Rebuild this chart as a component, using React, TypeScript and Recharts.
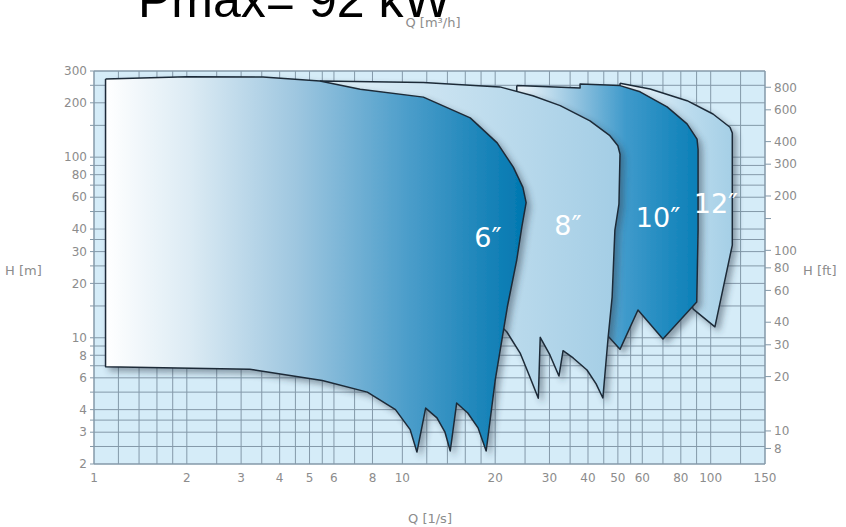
import { ScatterChart, Scatter, XAxis, YAxis, CartesianGrid } from "recharts";

// operating envelopes, Q in l/s, H in m
const pump6 = [
  { q: 1.09, h: 271 },
  { q: 2.0, h: 279 },
  { q: 3.53, h: 278 },
  { q: 5.4, h: 264 },
  { q: 7.3, h: 238 },
  { q: 11.7, h: 215 },
  { q: 16.6, h: 165 },
  { q: 20.3, h: 120 },
  { q: 22.9, h: 88 },
  { q: 24.6, h: 68 },
  { q: 25.2, h: 56 },
  { q: 24.4, h: 41 },
  { q: 23.5, h: 27 },
  { q: 21.9, h: 14.8 },
  { q: 20.0, h: 5.8 },
  { q: 18.7, h: 2.36 },
  { q: 17.6, h: 3.17 },
  { q: 16.3, h: 3.83 },
  { q: 15.0, h: 4.35 },
  { q: 14.3, h: 2.36 },
  { q: 13.75, h: 3.0 },
  { q: 12.95, h: 3.6 },
  { q: 11.9, h: 4.08 },
  { q: 11.15, h: 2.33 },
  { q: 10.6, h: 3.1 },
  { q: 9.5, h: 4.0 },
  { q: 7.7, h: 5.0 },
  { q: 5.5, h: 5.8 },
  { q: 3.2, h: 6.7 },
  { q: 1.09, h: 6.9 },
  { q: 1.09, h: 271 },
];

const pump8 = [
  { q: 5.4, h: 264 },
  { q: 11.7, h: 259 },
  { q: 20.7, h: 245 },
  { q: 26.5, h: 219 },
  { q: 32.5, h: 193 },
  { q: 40.6, h: 159 },
  { q: 47.1, h: 131.5 },
  { q: 50.0, h: 115.7 },
  { q: 50.8, h: 104 },
  { q: 50.4, h: 55 },
  { q: 48.9, h: 39.5 },
  { q: 47.9, h: 16.8 },
  { q: 46.5, h: 10.1 },
  { q: 44.7, h: 4.64 },
  { q: 42.5, h: 5.55 },
  { q: 39.7, h: 6.63 },
  { q: 35.8, h: 7.73 },
  { q: 33.2, h: 8.48 },
  { q: 32.2, h: 6.14 },
  { q: 30.1, h: 8.03 },
  { q: 28.0, h: 10.06 },
  { q: 27.6, h: 4.62 },
  { q: 25.9, h: 6.09 },
  { q: 24.1, h: 8.23 },
  { q: 21.8, h: 10.8 },
  { q: 20.0, h: 12.5 },
  { q: 9.8, h: 58 },
  { q: 5.4, h: 235 },
  { q: 5.4, h: 264 },
];

const pump10 = [
  { q: 23.5, h: 249 },
  { q: 37.7, h: 241.5 },
  { q: 37.7, h: 254 },
  { q: 50.8, h: 249 },
  { q: 59.0, h: 230 },
  { q: 72.2, h: 190 },
  { q: 83.8, h: 153 },
  { q: 90.3, h: 126 },
  { q: 91.0, h: 110 },
  { q: 91.0, h: 39.5 },
  { q: 90.1, h: 15.8 },
  { q: 70.0, h: 9.84 },
  { q: 58.1, h: 14.25 },
  { q: 50.8, h: 8.63 },
  { q: 46.5, h: 10.2 },
  { q: 42.1, h: 11.0 },
  { q: 40.6, h: 110 },
  { q: 30.1, h: 182 },
  { q: 23.5, h: 227 },
  { q: 23.5, h: 249 },
];

const pump12 = [
  { q: 50.8, h: 256.5 },
  { q: 63.6, h: 238.5 },
  { q: 83.8, h: 205.5 },
  { q: 101.7, h: 173.4 },
  { q: 115.5, h: 146.4 },
  { q: 117.5, h: 136 },
  { q: 117.5, h: 32.6 },
  { q: 103.2, h: 11.5 },
  { q: 87.8, h: 14.4 },
  { q: 85.7, h: 16.2 },
  { q: 85.7, h: 110 },
  { q: 59.0, h: 218 },
  { q: 50.8, h: 235.5 },
  { q: 50.8, h: 256.5 },
];

const sizeLabels = [
  { q: 18.95, h: 35.7, name: "6″" },
  { q: 34.45, h: 42.1, name: "8″" },
  { q: 67.5, h: 46.6, name: "10″" },
  { q: 104, h: 55.7, name: "12″" },
];

// axes
const qTicks = [1, 1.2, 1.4, 1.6, 1.8, 2, 2.5, 3, 3.5, 4, 4.5, 5, 5.5, 6, 7, 8, 10, 12, 14, 16, 18, 20, 25, 30, 35, 40, 45, 50, 55, 60, 70, 80, 90, 100, 125, 150];
const qLabels = [1, 2, 3, 4, 5, 6, 8, 10, 20, 30, 40, 50, 60, 80, 100, 150];
const hTicks = [2, 2.5, 3, 3.5, 4, 5, 6, 7, 8, 9, 10, 15, 20, 25, 30, 35, 40, 50, 60, 70, 80, 90, 100, 150, 200, 250, 300];
const hLabels = [2, 3, 4, 6, 8, 10, 20, 30, 40, 60, 80, 100, 200, 300];
const m3Ticks = [4, 4.5, 5, 6, 7, 8, 9, 10, 15, 20, 30, 40, 50, 60, 70, 80, 100, 150, 200, 300, 400, 500];
const m3Labels = [4, 5, 6, 8, 10, 20, 30, 40, 60, 80, 100, 200, 300, 500];
const ftTicks = [8, 10, 20, 30, 40, 60, 80, 100, 150, 200, 300, 400, 600, 800];
const ftLabels = [8, 10, 20, 30, 40, 60, 80, 100, 200, 300, 400, 600, 800];

const Q_MIN = 1;
const Q_MAX = 150;
const H_MIN = 2;
const H_MAX = 300;
const M3H_PER_LS = 3.6;
const FT_PER_M = 3.28084;

const gridColor = "#8499a9";
const tickStyle = { fill: "#8c8c8c", fontSize: 12, fontFamily: "DejaVu Sans" };
const titleStyle = { fill: "#8c8c8c", fontSize: 13, fontFamily: "DejaVu Sans" };

const labelIf = (list: number[]) => (v: number) => (list.includes(v) ? String(v) : "");

const NoDot = () => null;

const SizeLabel = (props: any) => (
  <text
    x={props.cx}
    y={props.cy}
    textAnchor="middle"
    dominantBaseline="central"
    fill="#ffffff"
    fontSize={27}
    fontFamily="DejaVu Sans"
  >
    {props.payload.name}
  </text>
);

const outline = (grad: string) => ({
  fill: `url(#${grad})`,
  stroke: "#1d2b38",
  strokeWidth: 1.5,
  strokeLinejoin: "round",
  filter: "url(#shade)",
});

export default function App() {
  return (
    <div style={{ position: "absolute", left: 0, top: 0 }}>
      <ScatterChart
        width={846}
        height={527}
        margin={{ top: 41, right: 41, bottom: 33, left: 54 }}
      >
        <defs>
          <linearGradient id="g6" x1="0" y1="0" x2="1" y2="0">
            <stop offset="0%" stopColor="#ffffff" />
            <stop offset="20%" stopColor="#dcebf4" />
            <stop offset="45%" stopColor="#9fc7e0" />
            <stop offset="72%" stopColor="#4b9dca" />
            <stop offset="100%" stopColor="#0077b0" />
          </linearGradient>
          <linearGradient id="g8" x1="0" y1="0" x2="1" y2="0">
            <stop offset="0%" stopColor="#e2f0f8" />
            <stop offset="100%" stopColor="#a3cde5" />
          </linearGradient>
          <linearGradient id="g10" x1="0" y1="0" x2="1" y2="0">
            <stop offset="0%" stopColor="#f2f8fc" />
            <stop offset="35%" stopColor="#8cc0de" />
            <stop offset="60%" stopColor="#3f9acb" />
            <stop offset="100%" stopColor="#0a7fb7" />
          </linearGradient>
          <linearGradient id="g12" x1="0" y1="0" x2="1" y2="0">
            <stop offset="0%" stopColor="#f7fbfe" />
            <stop offset="60%" stopColor="#bcdcee" />
            <stop offset="100%" stopColor="#a5cfe6" />
          </linearGradient>
          <filter id="shade" x="-10%" y="-10%" width="130%" height="130%">
            <feDropShadow dx="4" dy="4" stdDeviation="3" floodColor="#2a3a48" floodOpacity="0.45" />
          </filter>
        </defs>

        <text x={138} y={17} fontSize={50} fontFamily="Liberation Sans" fill="#000">
          Pmax= 92 kW
        </text>
        <text x={433} y={27} textAnchor="middle" {...titleStyle}>Q [m³/h]</text>
        <text x={430} y={523} textAnchor="middle" {...titleStyle}>Q [1/s]</text>
        <text x={5} y={275} {...titleStyle}>H [m]</text>
        <text x={803} y={275} {...titleStyle}>H [ft]</text>

        <CartesianGrid xAxisId="q" yAxisId="h" fill="#d5ecf8" stroke={gridColor} />

        <XAxis
          xAxisId="q"
          dataKey="q"
          type="number"
          scale="log"
          domain={[Q_MIN, Q_MAX]}
          allowDataOverflow
          ticks={qTicks}
          interval={0}
          tickFormatter={labelIf(qLabels)}
          tickLine={false}
          tickSize={0}
          tickMargin={9}
          axisLine={{ stroke: gridColor }}
          height={30}
          tick={tickStyle}
        />
        <XAxis
          xAxisId="m3"
          orientation="top"
          type="number"
          scale="log"
          domain={[Q_MIN * M3H_PER_LS, Q_MAX * M3H_PER_LS]}
          allowDataOverflow
          ticks={m3Ticks}
          interval={0}
          tickFormatter={labelIf(m3Labels)}
          tickLine={{ stroke: gridColor }}
          tickSize={5}
          tickMargin={3}
          axisLine={{ stroke: gridColor }}
          height={30}
          tick={tickStyle}
        />
        <YAxis
          yAxisId="h"
          dataKey="h"
          type="number"
          scale="log"
          domain={[H_MIN, H_MAX]}
          allowDataOverflow
          ticks={hTicks}
          interval={0}
          tickFormatter={labelIf(hLabels)}
          tickLine={{ stroke: gridColor }}
          tickSize={4}
          tickMargin={3}
          axisLine={{ stroke: gridColor }}
          width={40}
          tick={tickStyle}
        />
        <YAxis
          yAxisId="ft"
          orientation="right"
          type="number"
          scale="log"
          domain={[H_MIN * FT_PER_M, H_MAX * FT_PER_M]}
          allowDataOverflow
          ticks={ftTicks}
          interval={0}
          tickFormatter={labelIf(ftLabels)}
          tickLine={{ stroke: gridColor }}
          tickSize={6}
          tickMargin={3}
          axisLine={{ stroke: gridColor }}
          width={40}
          tick={tickStyle}
        />

        <Scatter xAxisId="q" yAxisId="h" data={pump12} line={outline("g12")} lineType="joint" shape={NoDot} isAnimationActive={false} />
        <Scatter xAxisId="q" yAxisId="h" data={pump10} line={outline("g10")} lineType="joint" shape={NoDot} isAnimationActive={false} />
        <Scatter xAxisId="q" yAxisId="h" data={pump8} line={outline("g8")} lineType="joint" shape={NoDot} isAnimationActive={false} />
        <Scatter xAxisId="q" yAxisId="h" data={pump6} line={outline("g6")} lineType="joint" shape={NoDot} isAnimationActive={false} />
        <Scatter xAxisId="q" yAxisId="h" data={sizeLabels} shape={SizeLabel} isAnimationActive={false} />
      </ScatterChart>
    </div>
  );
}
